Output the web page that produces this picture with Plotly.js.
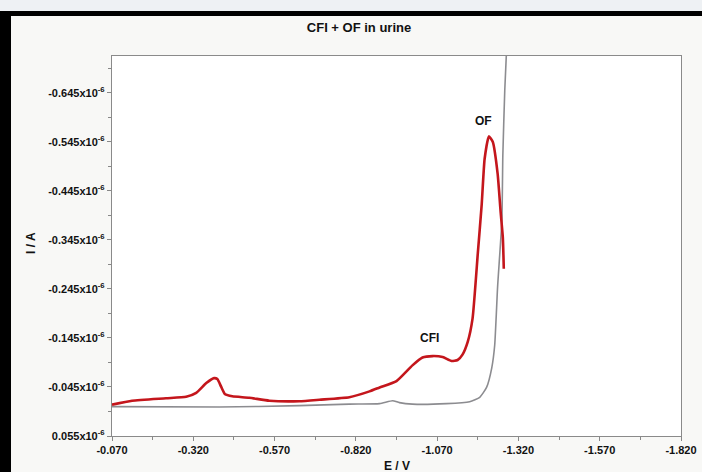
<!DOCTYPE html>
<html>
<head>
<meta charset="utf-8">
<script src="https://cdn.plot.ly/plotly-3.0.1.min.js"></script>
<style>html,body{margin:0;padding:0;background:#f8f8f6;}#chart{width:702px;height:472px;}</style>
</head>
<body>
<div id="chart"></div>
<script>
// Red trace: CFI + OF in urine (E in V, I in units of 1e-6 A)
const redE = [-0.070,-0.132,-0.236,-0.298,-0.329,-0.360,-0.384,-0.394,-0.406,-0.418,-0.440,-0.492,-0.554,-0.646,-0.708,-0.800,-0.862,-0.893,-0.945,-0.994,-1.025,-1.056,-1.087,-1.114,-1.133,-1.148,-1.164,-1.179,-1.195,-1.207,-1.216,-1.229,-1.241,-1.256,-1.265,-1.272,-1.275];
const redI = [-0.009,-0.017,-0.022,-0.025,-0.033,-0.053,-0.063,-0.061,-0.045,-0.030,-0.026,-0.023,-0.017,-0.016,-0.019,-0.024,-0.036,-0.044,-0.057,-0.089,-0.105,-0.108,-0.106,-0.098,-0.100,-0.111,-0.137,-0.185,-0.317,-0.417,-0.510,-0.556,-0.545,-0.480,-0.404,-0.350,-0.286];
// Grey trace: blank urine
const greyE = [-0.070,-0.400,-0.646,-0.800,-0.893,-0.933,-0.954,-0.994,-1.099,-1.170,-1.201,-1.222,-1.238,-1.247,-1.256,-1.269,-1.272,-1.278,-1.284];
const greyI = [-0.005,-0.004,-0.007,-0.010,-0.011,-0.017,-0.013,-0.010,-0.011,-0.015,-0.024,-0.044,-0.084,-0.130,-0.250,-0.384,-0.516,-0.650,-0.740];

const xTickVals = [-0.070,-0.320,-0.570,-0.820,-1.070,-1.320,-1.570,-1.820];
const xTickText = ['-0.070','-0.320','-0.570','-0.820','-1.070','-1.320','-1.570','-1.820'];
const yTickVals = [0.055,-0.045,-0.145,-0.245,-0.345,-0.445,-0.545,-0.645];
const yTickText = ['0.055x10<sup>-6</sup>','-0.045x10<sup>-6</sup>','-0.145x10<sup>-6</sup>','-0.245x10<sup>-6</sup>','-0.345x10<sup>-6</sup>','-0.445x10<sup>-6</sup>','-0.545x10<sup>-6</sup>','-0.645x10<sup>-6</sup>'];

const peakLabels = [{text:'OF', x:-1.213, y:-0.588},{text:'CFI', x:-1.047, y:-0.145}];

function mids(v){const m=[];for(let i=0;i<v.length-1;i++)m.push((v[i]+v[i+1])/2);m.push(v[v.length-1]+(v[v.length-1]-v[v.length-2])/2);return m;}

const FONT = '"Liberation Sans", Arial, sans-serif';

const traces = [
  {x:greyE, y:greyI, mode:'lines', line:{color:'#8c8c90', width:1.6, shape:'spline', smoothing:0.5}, hoverinfo:'skip'},
  {x:redE, y:redI, mode:'lines', line:{color:'#c4161c', width:2.6, shape:'spline', smoothing:0.5}, hoverinfo:'skip'}
];

// paper coords for pixel decorations: plot area l=112, w=569, t=56, h=380
function px(x){return (x-112)/569;}
function py(y){return (436-y)/380;}

const annots = peakLabels.map(l=>({text:l.text, x:l.x, y:l.y, xref:'x', yref:'y', showarrow:false, font:{family:FONT, size:12, color:'#111', weight:'bold'}}));
annots.push({text:'E / V', xref:'paper', yref:'paper', x:px(397), y:py(466), showarrow:false, xanchor:'center', yanchor:'middle', font:{family:FONT, size:12, color:'#111', weight:'bold'}});
annots.push({text:'I / A', xref:'paper', yref:'paper', x:px(31), y:py(243), showarrow:false, textangle:-90, xanchor:'center', yanchor:'middle', font:{family:FONT, size:12, color:'#111', weight:'bold'}});

const layout = {
  width:702, height:472,
  margin:{l:112, r:21, t:56, b:36},
  paper_bgcolor:'#f8f8f6', plot_bgcolor:'#ffffff',
  showlegend:false,
  title:{text:'CFI + OF in urine', font:{family:FONT, size:13, color:'#111', weight:'bold'}, x:359/702, xref:'container', xanchor:'center', y:1-27/472, yref:'container', yanchor:'middle'},
  xaxis:{
    range:[-0.070,-1.820], tickmode:'array', tickvals:xTickVals, ticktext:xTickText,
    minor:{tickvals:mids(xTickVals).slice(0,-1), ticks:'outside', ticklen:3, tickcolor:'#888'},
    ticks:'outside', ticklen:4, tickcolor:'#888', showgrid:false, zeroline:false,
    showline:true, linecolor:'#8a8a8a', linewidth:1.2, mirror:true,
    tickfont:{family:FONT, size:11, color:'#111', weight:'bold'}
  },
  yaxis:{
    range:[0.055,-0.72], tickmode:'array', tickvals:yTickVals, ticktext:yTickText,
    minor:{tickvals:mids(yTickVals), ticks:'outside', ticklen:3, tickcolor:'#888'},
    ticks:'outside', ticklen:4, tickcolor:'#888', showgrid:false, zeroline:false,
    showline:true, linecolor:'#8a8a8a', linewidth:1.2, mirror:true,
    tickfont:{family:FONT, size:11, color:'#111', weight:'bold'}
  },
  annotations: annots,
  shapes:[
    {type:'rect', xref:'paper', yref:'paper', x0:px(0), x1:px(702), y0:py(11), y1:py(0), fillcolor:'#eef1f4', line:{width:0}, layer:'below'},
    {type:'rect', xref:'paper', yref:'paper', x0:px(0), x1:px(702), y0:py(16), y1:py(11), fillcolor:'#000', line:{width:0}},
    {type:'rect', xref:'paper', yref:'paper', x0:px(0), x1:px(11), y0:py(472), y1:py(11), fillcolor:'#000', line:{width:0}}
  ]
};

Plotly.newPlot('chart', traces, layout, {displayModeBar:false, staticPlot:true});
</script>
</body>
</html>
